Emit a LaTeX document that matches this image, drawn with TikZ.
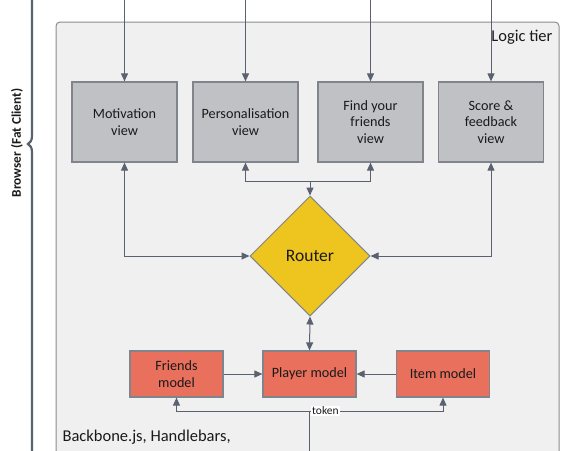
\documentclass[tikz,border=0pt]{standalone}
\usepackage{fontspec}
\setmainfont{Carlito}
\usetikzlibrary{shapes.geometric,arrows.meta,decorations.pathreplacing}
\definecolor{contfill}{HTML}{F0F0F0}
\definecolor{contdraw}{HTML}{8C8C8C}
\definecolor{viewfill}{HTML}{BFC1C5}
\definecolor{boxdraw}{HTML}{80858C}
\definecolor{routerfill}{HTML}{EEC41E}
\definecolor{modelfill}{HTML}{E8705C}
\definecolor{arrowcol}{HTML}{5A6270}
\definecolor{txt}{HTML}{1A1A1A}
\begin{document}
\begin{tikzpicture}[x=1pt,y=-1pt,
  viewbox/.style={draw=boxdraw,fill=viewfill,line width=1.2pt,minimum width=105pt,minimum height=80pt,
    align=center,font=\fontsize{14.2}{16.8}\selectfont,text=txt,inner sep=2pt},
  modelbox/.style={draw=boxdraw,fill=modelfill,line width=1.2pt,minimum width=93pt,minimum height=46pt,
    align=center,font=\fontsize{14.2}{16.8}\selectfont,text=txt,inner sep=2pt},
  conn/.style={draw=arrowcol,line width=1pt},
  tip/.tip={Triangle[length=8pt,width=7pt]},
  arr/.style={conn,-tip},
  darr/.style={conn,tip-tip},
]
\useasboundingbox (0,0) rectangle (569,450);
% container
\draw[fill=contfill,draw=contdraw,line width=1pt,rounded corners=4pt] (56,22) rectangle (559,480);
\node[anchor=east,font=\fontsize{16.5}{20}\selectfont,text=txt] (tier) at (556,37) {Logic tier};
\node[anchor=west,font=\fontsize{16.5}{20}\selectfont,text=txt] (tech) at (59,437) {Backbone.js, Handlebars,};
% brace
\draw[decorate,decoration={brace,amplitude=8pt},draw=arrowcol,line width=2.2pt] (36,620) -- (36,-332);
\node[rotate=90,font=\bfseries\fontsize{13.3}{16}\selectfont,text=txt] (browser) at (17,143) {Browser (Fat Client)};
% views
\node[viewbox] (mot) at (124.5,122) {Motivation\\view};
\node[viewbox] (pers) at (245.5,122) {Personalisation\\view};
\node[viewbox] (find) at (370.5,122) {Find your\\friends\\view};
\node[viewbox] (score) at (491,122) {Score \&\\feedback\\view};
% router
\node[diamond,draw=boxdraw,fill=routerfill,line width=1pt,minimum width=120pt,minimum height=120pt,inner sep=0pt,
  font=\fontsize{17.5}{20}\selectfont,text=txt] (router) at (310,256) {Router};
% models
\node[modelbox] (friends) at (176.5,374) {Friends\\model};
\node[modelbox] (player) at (309.5,374) {Player model};
\node[modelbox] (item) at (443,374) {Item model};
% incoming from top
\foreach \n in {mot,pers,find,score}{
  \coordinate (top\n) at (\n.north |- 0,-5);
  \draw[arr] (top\n) -- (\n.north);
}
% view-router links
\draw[darr] (mot.south) |- (router.west);
\draw[darr] (score.south) |- (router.east);
\coordinate (bus) at (310,181);
\draw[darr] (pers.south) -- (pers.south |- bus) -- (find.south |- bus) -- (find.south);
\draw[arr] (router.north |- bus) -- (router.north);
\draw[darr] (router.south) -- (player.north);
% models
\draw[arr] (friends.east) -- (player.west);
\draw[arr] (item.west) -- (player.east);
% token
\coordinate (tbot) at (player.south |- 0,460);
\coordinate (tj) at (player.south |- 0,411);
\draw[conn] (tbot) -- (tj);
\draw[arr] (tj) -| (friends.south);
\draw[arr] (tj) -| (item.south);
\node[anchor=west,fill=white,inner sep=1pt,font=\fontsize{11.5}{13}\selectfont,text=txt] (token) at ([xshift=1.5pt]tj) {token};
\end{tikzpicture}
\end{document}
